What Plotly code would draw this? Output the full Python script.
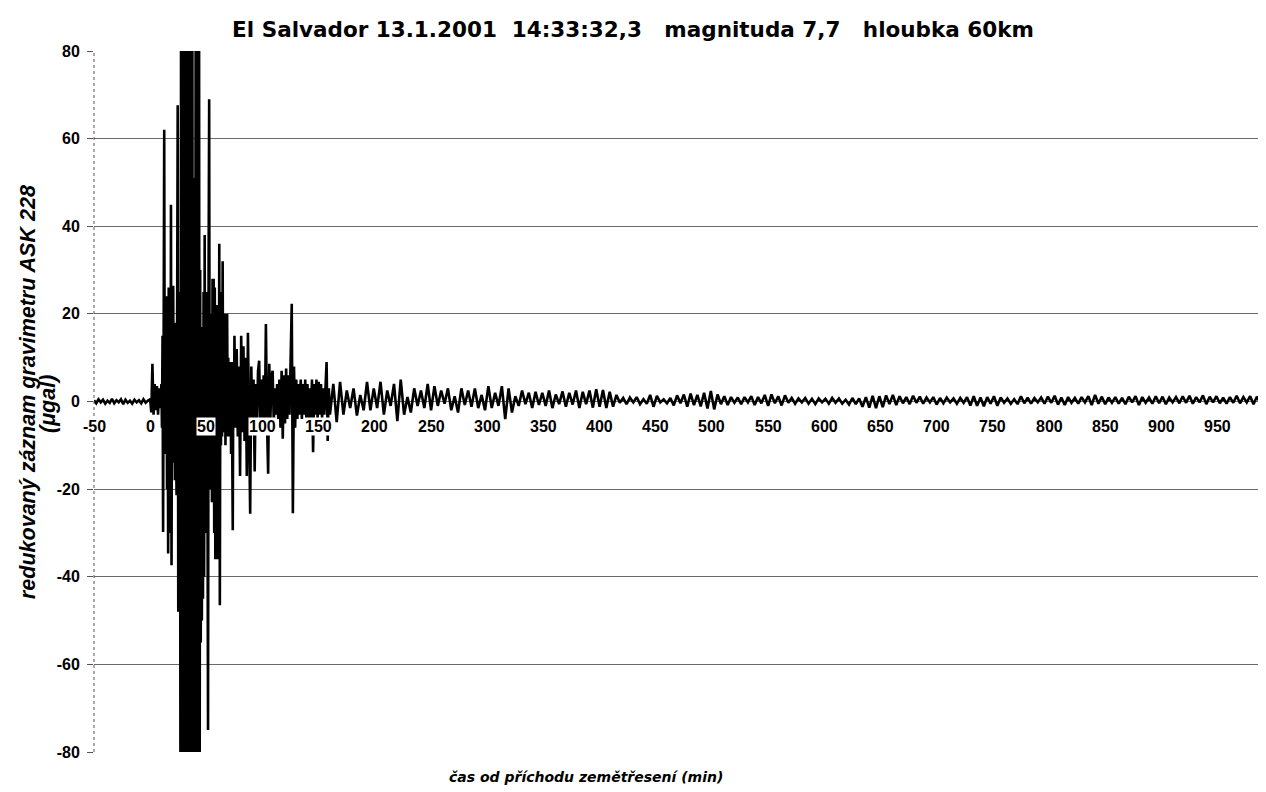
import numpy as np
import plotly.graph_objects as go

# ---------------- data ----------------
# pre-event noise, sampled every 2 min from -50 to -2 min
pre_start, pre_step = -50, 2
pre_values = [0.3, -0.4, 0.5, -0.2, 0.4, -0.5, 0.2, -0.3, 0.6, -0.4,
              0.3, -0.2, 0.5, -0.6, 0.4, -0.3, 0.2, -0.5, 0.4, -0.2,
              0.3, -0.4, 0.5, -0.3, 0.2]

# first arrivals, every 1 min from 0 to 9 min
onset_start, onset_step = 0, 1
onset_values = [0.5, -2.5, 8.6, -3, 4, -2, 3.5, -3, 3, -1.5]

# strongest shaking, every 0.5 min from 10 to 74.5 min (values beyond +-80 are clipped by the axis)
peak_start, peak_step = 10, 0.5
peak_values = [
    4, -6, 15, -29.8, 20, 62, -12, 18, -8, 24,                 # 10-14.5
    -20, 22, -34.7, 26, -15, 20, -30, 44.9, -37.4, 15,         # 15-19.5
    -10, 26.4, -14, 12, -18, 18, -10, -21.4, 20, 67.6,         # 20-24.5
    -48, 25, -20, 24, -100, 100, -100, 100, -100, 100,         # 25-29.5
    -100, 100, -100, 100, -100, 100, -100, 100, -100, 100,     # 30-34.5
    -100, 10, -100, 100, -100, 100, -51, 51, -100, 48,         # 35-39.5
    -100, 100, -100, 100, -100, 100, -100, 100, -100, 30,      # 40-44.5
    -55, 17, -50, 15, -45, 25, -40, 38, -30, 20,               # 45-49.5
    -22, 25, -20, -75, 30, 69, -20, 15, -18, 20,               # 50-54.5
    -23, 28, -15, 28, -30, 26, -36, 20, -25, 22,               # 55-59.5
    -36, 18, -20, 36, -46.5, 15, -10, 25, -8, 32,              # 60-64.5
    -7, 12, -6, 20, -10, 12, -7, 20, -8, 10,                   # 65-69.5
    -8, 9, -6, 8, -12, 9, -10, -29.4, 9, -5,                   # 70-74.5
]

# decaying surface waves, every 1 min from 75 to 160 min
late_start, late_step = 75, 1
late_values = [
    15, -6, 12, -8, 8,                                         # 75-79
    -17, 15, -7, 12.6, -9, 10, -17, 15.7, -6, -25.6,           # 80-89
    8, -7, 5, -16, 4, -6, 7, 9.3, -5, 5,                       # 90-99
    -4, 6, -6, 17.7, -5, -16.5, 8.6, -4, 6, 7,                 # 100-109
    -5, 3, -3, 4, -4, 5, -6, 7, -8.5, 6,                       # 110-119
    -5, 7.5, -4, 6, -3, 8, 22.3, -25.5, 8, -6,                 # 120-129
    5, -4, 4, -3, 5, -4, 4, -3, 5, -4,                         # 130-139
    4, -5, 3, -4, 5, -11.6, 4, -3, 5, -4,                      # 140-149
    4.5, -3, 4, -4, 3, -3, 4, 9, -9, 3,                        # 150-159
    -3,                                                        # 160
]

# coda, sampled every 3 min from 163 to 988 min
coda_start, coda_step = 163, 3
coda_values = [
    4, -4.7, 4.5, -3, 2.5, -1.5, 3, -3.2, 1.5, -2,
    4.5, -2, 3, -1.5, 4.5, -3, 2.5, -1, 4, -4.5,
    5, -3, 1, -2.5, 3, -1, 2.5, -1.5, 4, -2,
    3.5, -1, 2.5, -0.5, 3, -2, 1.2, -2.5, 3, -0.8,
    2.5, -1.2, 3, -1.5, 1.5, -2, 3.5, -1.5, 2, -1,
    3.5, -4, 3, -2.5, 1.2, -1, 2.5, -0.6, 2, -1.5,
    2.2, -0.8, 2, -1, 2.5, -1.5, 1.6, -0.6, 2.3, -1.2,
    2, -0.7, 2.5, -1.5, 2.2, -0.6, 2.5, -1.4, 2.8, -1.2,
    2.6, -1.5, 2.2, -1.2, 1.5, -0.3, 0.8, -0.6, 0.9, -0.2,
    1, -0.6, 0.5, -0.5, 1.5, -1.2, 1.3, -0.2, 0.5, -0.4,
    0.8, -0.9, 1.4, -0.4, 1.6, -1.2, 1.8, -0.8, 1.5, -1.1,
    2, -1.6, 2.4, -1.8, 1.6, -0.6, 1.2, -0.8, 1, -0.3,
    0.9, -0.6, 1, -0.2, 1.2, -0.8, 1, -0.4, 1.5, -1,
    1.6, -0.4, 1.2, -0.9, 1.4, -0.3, 0.8, -0.5, 0.7, -0.2,
    0.8, -0.5, 0.6, -0.6, 0.7, -0.2, 0.6, -0.5, 0.8, -0.3,
    0.7, -0.5, 0.4, -0.7, 0.8, -0.6, 0.7, -1.2, 1, -1.4,
    1.3, -1.5, 1.2, -1.3, 1.4, -0.6, 1.5, -0.8, 1.2, -0.4,
    1, -0.6, 1.3, -0.3, 1.1, -0.5, 0.9, -0.2, 1, -0.7,
    0.8, -0.4, 0.9, -0.2, 0.7, -0.5, 0.8, -0.3, 1, -0.9,
    1.2, -1, 0.9, -1.1, 1, -0.5, 1.2, -1, 0.9, -0.3,
    0.7, -0.5, 0.5, -0.6, 1.2, -0.4, 0.9, -0.5, 0.8, -0.2,
    0.9, -0.5, 1.1, -0.3, 1.3, -0.7, 0.9, -0.8, 1, -0.3,
    0.8, -0.5, 1, -0.2, 1.2, -0.8, 1.5, -0.5, 1.1, -0.6,
    0.9, -0.3, 1, -0.5, 0.8, -0.6, 1.1, -0.2, 1.2, -0.8,
    1, -0.3, 0.9, -0.5, 1.2, -0.4, 1.1, -0.6, 0.9, -0.2,
    1, -0.4, 1.2, -0.3, 1.3, -0.5, 1, -0.2, 1.4, -0.6,
    1.1, -0.2, 1.2, -0.4, 0.9, -0.5, 1, -0.3, 1.3, -0.4,
    1, -0.2, 1.2, -0.6, 1.1, -0.3,
]

x_ticks = [-50, 0, 50, 100, 150, 200, 250, 300, 350, 400, 450, 500, 550,
           600, 650, 700, 750, 800, 850, 900, 950]
y_ticks = [-80, -60, -40, -20, 0, 20, 40, 60, 80]

title_text = "El Salvador 13.1.2001\u00a0\u00a014:33:32,3\u00a0\u00a0\u00a0magnituda 7,7\u00a0\u00a0\u00a0hloubka 60km"
x_title = "čas od příchodu zemětřesení (min)"
y_title_1 = "redukovaný záznam gravimetru ASK 228"
y_title_2 = "(μgal)"

# ---------------- build series ----------------
segments = [(pre_start, pre_step, pre_values),
            (onset_start, onset_step, onset_values),
            (peak_start, peak_step, peak_values),
            (late_start, late_step, late_values),
            (coda_start, coda_step, coda_values)]
t = np.concatenate([s + d * np.arange(len(vals)) for s, d, vals in segments])
v = np.concatenate([np.asarray(vals, dtype=float) for _, _, vals in segments])

# page has an 8px body margin, so the figure is 8px smaller than the window
W, H = 1258, 784
OFF = 8

fig = go.Figure()
fig.add_trace(go.Scatter(x=t, y=v, mode="lines",
                         line=dict(color="black", width=2.6),
                         showlegend=False, hoverinfo="skip"))

tick_font = dict(family="Liberation Sans, Arial", size=16, color="black", weight="bold")

# x tick labels sitting under the zero line, with white boxes
for xt in x_ticks:
    fig.add_annotation(x=xt, y=0, xref="x", yref="y", text=str(xt),
                       showarrow=False, yanchor="top", xanchor="center",
                       yshift=-15, bgcolor="white", borderpad=0,
                       font=tick_font)

# dotted y-axis line at left edge
fig.add_shape(type="line", xref="paper", yref="paper", x0=0, x1=0, y0=0, y1=1,
              line=dict(color="#555555", width=1, dash="dot"), layer="above")

# plot area in window pixels: left 94, right 1258, top 51, bottom 752
pl, pr, pt, pb = 94 - OFF, 1258 - OFF, 51 - OFF, 752 - OFF
pw, ph = pr - pl, pb - pt

fig.update_layout(
    width=W, height=H,
    margin=dict(l=pl, r=W - pr, t=pt, b=H - pb),
    paper_bgcolor="white", plot_bgcolor="white",
    showlegend=False,
    title=dict(text=title_text, x=(633 - OFF) / W, xref="container", xanchor="center",
               y=1 - (29 - OFF) / H, yref="container", yanchor="middle",
               font=dict(family="DejaVu Sans", size=21.5, color="black", weight="bold")),
    xaxis=dict(range=[-50, 986], showgrid=False, zeroline=False,
               showticklabels=False, ticks="", showline=False),
    yaxis=dict(range=[-80, 80], tickvals=y_ticks, ticktext=[str(k) for k in y_ticks],
               showgrid=True, gridcolor="#6a6a6a", gridwidth=1, zeroline=False,
               ticks="outside", ticklen=6, tickcolor="#555555",
               ticklabelstandoff=4, tickfont=tick_font, showline=False),
)

# axis titles (positions given in window pixels)
def px_x(x):
    return (x - OFF - pl) / pw

def px_y(y):
    return (pb - (y - OFF)) / ph

fig.add_annotation(xref="paper", yref="paper", x=px_x(586), y=px_y(777),
                   text=x_title, showarrow=False, xanchor="center", yanchor="middle",
                   font=dict(family="DejaVu Sans", size=14, color="black",
                             weight="bold", style="italic"))
fig.add_annotation(xref="paper", yref="paper", x=px_x(28), y=px_y(392),
                   text=y_title_1, showarrow=False, textangle=-90,
                   xanchor="center", yanchor="middle",
                   font=dict(family="Liberation Sans, Arial", size=21.5, color="black",
                             weight="bold", style="italic"))
fig.add_annotation(xref="paper", yref="paper", x=px_x(48), y=px_y(404),
                   text=y_title_2, showarrow=False, textangle=-90,
                   xanchor="center", yanchor="middle",
                   font=dict(family="Liberation Sans, Arial", size=21.5, color="black",
                             weight="bold", style="italic"))

fig.write_html("out.html")
